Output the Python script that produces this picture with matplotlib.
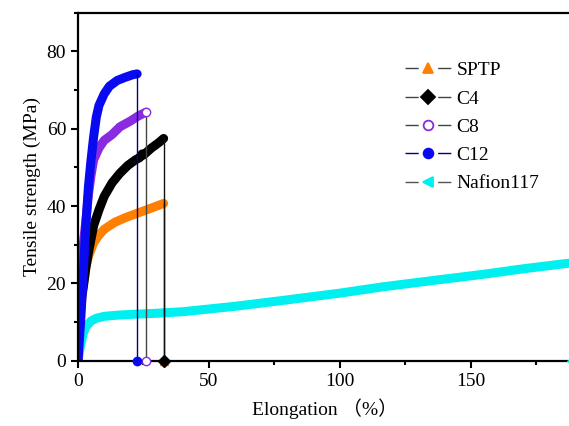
import matplotlib
matplotlib.use('Agg')
import matplotlib.pyplot as plt
from matplotlib.lines import Line2D
from matplotlib.ticker import MultipleLocator

plt.rcParams['font.family'] = ['Liberation Serif', 'Noto Sans CJK SC']
plt.rcParams['font.size'] = 14
plt.rcParams['lines.scale_dashes'] = False

# stress-strain curves (elongation %, tensile strength MPa)
sptp_x = [0, 0.3, 1, 2, 3, 4, 6, 8, 10, 14, 18, 22, 26, 30, 32.7]
sptp_y = [0, 8, 13, 19, 24, 27, 30.5, 32.5, 34, 35.8, 37, 38, 39, 40, 40.7]

c4_x = [0, 0.5, 1, 2, 3, 4, 6, 8, 10, 13, 16, 19, 22, 23.5, 24.5, 25, 28, 31, 32.7]
c4_y = [0, 12, 15, 19, 24, 28, 35, 39, 42.5, 46, 48.5, 50.5, 52, 52.5, 53.5, 53.2, 55, 56.5, 57.5]

c8_x = [0, 0.5, 1, 2, 3, 4, 5, 6, 8, 10, 13, 16, 20, 23, 26]
c8_y = [0, 15, 22, 30, 36, 43, 48, 52, 55, 57, 58.5, 60.5, 62, 63.3, 64.3]

c12_x = [0, 1, 2, 3, 4, 5, 6, 7, 8, 10, 12, 15, 18, 21, 22.6]
c12_y = [0, 10, 22, 35, 45, 52, 58, 63, 66, 69, 71, 72.5, 73.3, 74, 74.2]

naf_x = [0, 1, 2, 3, 5, 7, 10, 15, 20, 30, 40, 50, 60, 78, 100, 116, 130, 155, 170, 188]
naf_y = [0, 4, 7, 8.8, 10.3, 11, 11.5, 11.8, 12, 12.3, 12.7, 13.4, 14.1, 15.6, 17.5, 19.1, 20.3, 22.4, 23.8, 25.3]

names = ['SPTP', 'C4', 'C8', 'C12', 'Nafion117']
xs = [sptp_x, c4_x, c8_x, c12_x, naf_x]
ys = [sptp_y, c4_y, c8_y, c12_y, naf_y]
colors = ['#FF7F00', '#000000', '#8A2BE2', '#0A0AF0', '#00F0F0']
thin = ['#111111', '#111111', '#444444', '#000080', '#666666']
legline = ['#444444', '#444444', '#444444', '#000080', '#555555']
markers = ['^', 'D', 'o', 'o', '<']
faces = ['#FF7F00', '#000000', 'white', '#0A0AF0', '#00F0F0']

fig = plt.figure(figsize=(5.69, 4.26), dpi=100)
ax = fig.add_axes([0.137, 0.153, 0.868, 0.817])

# thick curves first, Nafion at the back
order = [4, 0, 1, 2, 3]
for i in order:
    ax.plot(xs[i], ys[i], color=colors[i], lw=6.5, solid_capstyle='round',
            solid_joinstyle='round', zorder=2)

# thin drop line at break with symbol on the axis
for i in order:
    xb, yb = xs[i][-1], ys[i][-1]
    every = [0, 1] if names[i] == 'C8' else [1]
    ax.plot([xb, xb], [yb, 0], color=thin[i], lw=1.0, marker=markers[i],
            markevery=every, markersize=6, markerfacecolor=faces[i],
            markeredgecolor=colors[i], zorder=3, clip_on=False)

# legend symbols: line - gap - marker - gap - line
handles = []
for i in range(5):
    handles.append(Line2D([], [], color=legline[i], lw=1.0,
                          linestyle=(0, (9.5, 14, 9.5, 60)),
                          marker=markers[i], markersize=7,
                          markerfacecolor=faces[i], markeredgecolor=colors[i],
                          markeredgewidth=1.3))

ax.legend(handles, names, loc='upper right',
          bbox_to_anchor=(0.97, 0.91), frameon=False, handlelength=2.35,
          labelspacing=0.55, fontsize=14, handletextpad=0.3)

ax.set_xlim(0, 188.5)
ax.set_ylim(0, 90)
ax.xaxis.set_major_locator(MultipleLocator(50))
ax.xaxis.set_minor_locator(MultipleLocator(25))
ax.yaxis.set_major_locator(MultipleLocator(20))
ax.yaxis.set_minor_locator(MultipleLocator(10))
ax.tick_params(which='major', direction='out', length=5, width=1.5, labelsize=14)
ax.tick_params(which='minor', direction='out', length=3, width=1.5)
for s in ['left', 'bottom', 'top']:
    ax.spines[s].set_linewidth(1.6)
ax.spines['right'].set_visible(False)

ax.set_xlabel('Elongation （%）', fontsize=14, labelpad=6)
ax.set_ylabel('Tensile strength (MPa)', fontsize=14, labelpad=4)

fig.savefig('out.png', dpi=100)
